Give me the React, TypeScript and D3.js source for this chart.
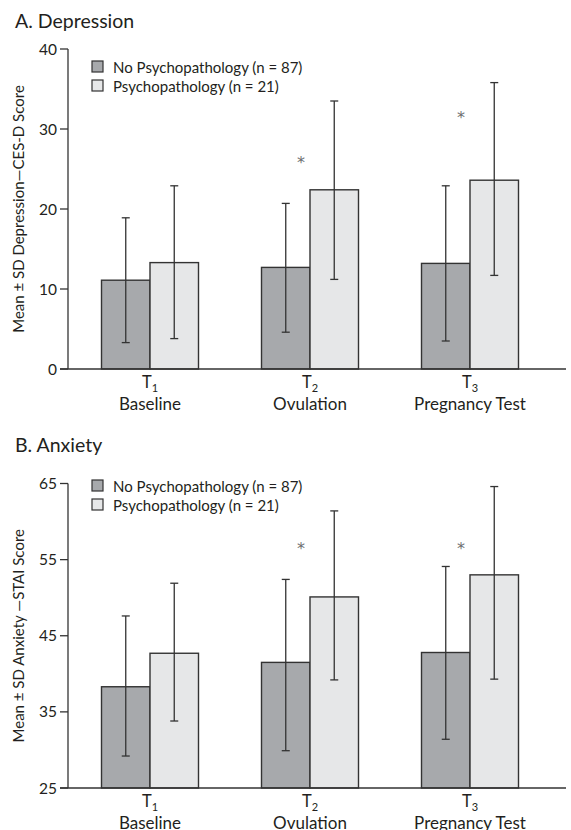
import React from "react";
import * as d3 from "d3";

const categories = ["Baseline", "Ovulation", "Pregnancy Test"];
const timeSubs = ["1", "2", "3"];
const seriesNames = ["No Psychopathology (n = 87)", "Psychopathology (n = 21)"];

// Panel A: Depression (CES-D)
const depNoMean = [11.1, 12.7, 13.2];
const depNoLo = [3.3, 4.6, 3.5];
const depNoHi = [18.9, 20.7, 22.9];
const depPsyMean = [13.3, 22.4, 23.6];
const depPsyLo = [3.8, 11.2, 11.7];
const depPsyHi = [22.9, 33.5, 35.8];
const depStars = [null, 26.2, 31.9];
const depTicks = [0, 10, 20, 30, 40];

// Panel B: Anxiety (STAI)
const anxNoMean = [38.3, 41.5, 42.8];
const anxNoLo = [29.2, 29.9, 31.4];
const anxNoHi = [47.6, 52.4, 54.1];
const anxPsyMean = [42.7, 50.1, 53.0];
const anxPsyLo = [33.8, 39.2, 39.3];
const anxPsyHi = [51.9, 61.4, 64.6];
const anxStars = [null, 56.9, 56.9];
const anxTicks = [25, 35, 45, 55, 65];

const FONT = "Lato, 'Open Sans', sans-serif";
const TXT = "#231f20";
const DARK = "#a7a9ac";
const LIGHT = "#e6e7e8";
const STROKE = "#333333";
const fills = [DARK, LIGHT];

type PanelProps = {
  title: string;
  yLabel: string;
  top: number;
  axisTop: number;
  axisBottom: number;
  domain: [number, number];
  ticks: number[];
  means: number[][];
  los: number[][];
  his: number[][];
  stars: (number | null)[];
  legendY: number;
};

const AXIS_X = 68;

function Panel(p: PanelProps) {
  const x = d3.scaleBand<string>().domain(categories).range([70, 550]).padding(0);
  const xi = d3.scaleBand<string>().domain(seriesNames).range([0, 97]).padding(0);
  const y = d3.scaleLinear().domain(p.domain).range([p.axisBottom, p.axisTop]);
  const bw = xi.bandwidth();
  const center = (c: string) => (x(c) as number) + x.bandwidth() / 2;
  const labelCenter = (p.axisTop + p.axisBottom) / 2;

  return (
    <g>
      <text x={15} y={p.top} fontSize={19.5} fill={TXT} fontFamily={FONT}>
        {p.title}
      </text>
      {categories.map((c, i) =>
        seriesNames.map((s, j) => {
          const x0 = center(c) - 48.5 + (xi(s) as number);
          const v = p.means[j][i];
          return (
            <rect
              key={c + s}
              x={x0}
              y={y(v)}
              width={bw}
              height={p.axisBottom - y(v)}
              fill={fills[j]}
              stroke={STROKE}
              strokeWidth={1.4}
            />
          );
        })
      )}
      {categories.map((c, i) =>
        seriesNames.map((s, j) => {
          const cx = center(c) - 48.5 + (xi(s) as number) + bw / 2;
          const lo = y(p.los[j][i]);
          const hi = y(p.his[j][i]);
          return (
            <g key={"e" + c + s} stroke={STROKE} strokeWidth={1.3}>
              <line x1={cx} x2={cx} y1={lo} y2={hi} />
              <line x1={cx - 4} x2={cx + 4} y1={lo} y2={lo} />
              <line x1={cx - 4} x2={cx + 4} y1={hi} y2={hi} />
            </g>
          );
        })
      )}
      {categories.map((c, i) =>
        p.stars[i] == null ? null : (
          <text
            key={"s" + c}
            x={center(c) - 9}
            y={y(p.stars[i] as number) + 9}
            textAnchor="middle"
            fontSize={16}
            fill="#6d6e71"
            fontFamily="'DejaVu Sans', sans-serif"
          >
            *
          </text>
        )
      )}
      <line x1={AXIS_X} x2={AXIS_X} y1={p.axisTop} y2={p.axisBottom} stroke={STROKE} strokeWidth={1.3} />
      {p.ticks.map((t) => (
        <g key={"t" + t}>
          <line x1={AXIS_X - 8} x2={AXIS_X} y1={y(t)} y2={y(t)} stroke={STROKE} strokeWidth={1.3} />
          <text
            x={AXIS_X - 11}
            y={y(t)}
            dy="0.36em"
            textAnchor="end"
            fontSize={15.5}
            fill={TXT}
            fontFamily={FONT}
          >
            {t}
          </text>
        </g>
      ))}
      <line x1={AXIS_X - 8} x2={566} y1={p.axisBottom} y2={p.axisBottom} stroke={STROKE} strokeWidth={1.3} />
      {categories.map((c, i) => (
        <g key={"x" + c} fontFamily={FONT} fill={TXT}>
          <text x={center(c)} y={p.axisBottom + 19} textAnchor="middle" fontSize={16.5}>
            T
            <tspan fontSize={11} dy={3.5}>
              {timeSubs[i]}
            </tspan>
          </text>
          <text x={center(c)} y={p.axisBottom + 41} textAnchor="middle" fontSize={17}>
            {c}
          </text>
        </g>
      ))}
      <text
        transform={`translate(24, ${labelCenter}) rotate(-90)`}
        textAnchor="middle"
        fontSize={15}
        fill={TXT}
        fontFamily={FONT}
      >
        {p.yLabel}
      </text>
      {seriesNames.map((s, j) => (
        <g key={"l" + s}>
          <rect
            x={92}
            y={p.legendY + j * 19}
            width={11}
            height={11}
            fill={fills[j]}
            stroke={STROKE}
            strokeWidth={1.2}
          />
          <text x={113} y={p.legendY + j * 19 + 11.5} fontSize={15} fill={TXT} fontFamily={FONT}>
            {s}
          </text>
        </g>
      ))}
    </g>
  );
}

export default function App() {
  return (
    <div style={{ position: "absolute", left: 0, top: 0 }}>
      <svg width={571} height={830} style={{ display: "block", background: "#fff" }}>
        <Panel
          title="A. Depression"
          yLabel="Mean ± SD Depression—CES-D Score"
          top={28}
          axisTop={49}
          axisBottom={369}
          domain={[0, 40]}
          ticks={depTicks}
          means={[depNoMean, depPsyMean]}
          los={[depNoLo, depPsyLo]}
          his={[depNoHi, depPsyHi]}
          stars={depStars}
          legendY={61}
        />
        <Panel
          title="B. Anxiety"
          yLabel="Mean ± SD Anxiety —STAI Score"
          top={452}
          axisTop={483.5}
          axisBottom={788}
          domain={[25, 65]}
          ticks={anxTicks}
          means={[anxNoMean, anxPsyMean]}
          los={[anxNoLo, anxPsyLo]}
          his={[anxNoHi, anxPsyHi]}
          stars={anxStars}
          legendY={480}
        />
      </svg>
    </div>
  );
}
